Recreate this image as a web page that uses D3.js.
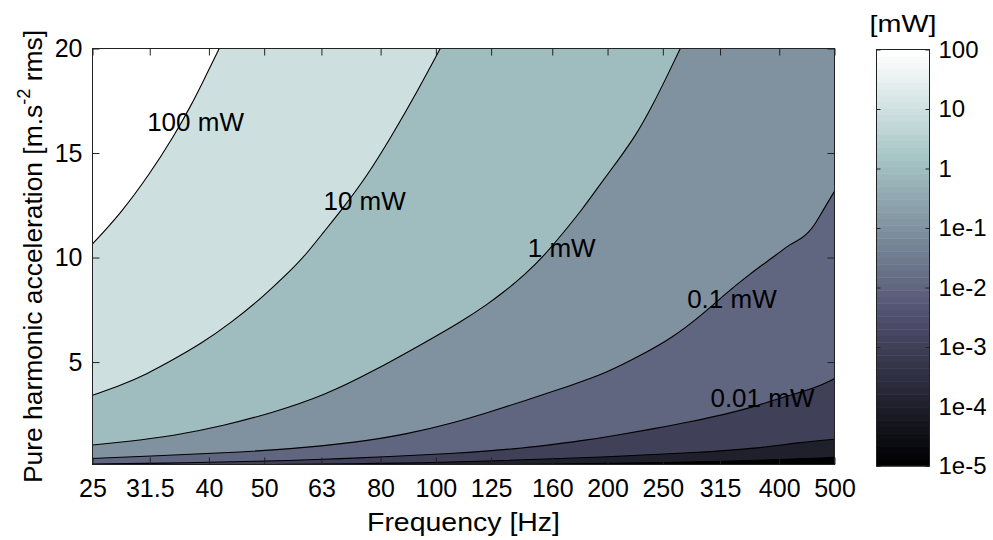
<!DOCTYPE html>
<html>
<head>
<meta charset="utf-8">
<script src="https://cdn.jsdelivr.net/npm/d3@7"></script>
<style>
  html, body { margin: 0; padding: 0; background: #fff; }
  svg { display: block; font-family: "Liberation Sans", Arial, Helvetica, sans-serif; }
</style>
</head>
<body>
<svg id="chart" width="993" height="540"></svg>
<script>
// ---- axis ticks ----
const FREQ_TICKS = [25, 31.5, 40, 50, 63, 80, 100, 125, 160, 200, 250, 315, 400, 500];
const ACCEL_TICKS = [5, 10, 15, 20];
const POWER_TICKS = [100, 10, 1, 0.1, 0.01, 0.001, 0.0001, 0.00001];
const POWER_TICK_LABELS = ["100", "10", "1", "1e-1", "1e-2", "1e-3", "1e-4", "1e-5"];

// ---- iso-power curves: [frequency Hz, acceleration m/s² rms] ----
const iso100mW = [[25, 10.65], [28, 12.1], [31.5, 14.0], [34.7, 15.8], [37.1, 17.2], [39.2, 18.5], [41.7, 20]];
const iso10mW = [[25, 3.41], [28.3, 3.94], [31.1, 4.42], [34.7, 5.13], [38.6, 5.85], [43.6, 6.85], [49.9, 8.15],
  [55.5, 9.35], [59, 10.1], [63.5, 11.2], [68.9, 12.4], [75.7, 13.9], [83.2, 15.7], [92.6, 17.9], [101.8, 20]];
const iso1mW = [[25, 1.03], [28.3, 1.18], [34.7, 1.47], [42.4, 1.95], [51.9, 2.59], [63.5, 3.38], [77.8, 4.57],
  [95.1, 5.9], [110.3, 6.9], [123.7, 7.8], [132.3, 8.4], [143.4, 9.2], [154.4, 10.05], [168.6, 11.3],
  [180.4, 12.29], [192.9, 13.4], [209, 14.68], [223.6, 15.79], [239.3, 17.22], [255.8, 18.82], [268.3, 20]];
const iso01mW = [[25, 0.39], [32.4, 0.52], [42.4, 0.65], [55.5, 0.84], [72.7, 1.16], [88.9, 1.55], [108.1, 2.11],
  [123.7, 2.6], [141.5, 3.1], [173.2, 3.9], [198.1, 4.45], [229.8, 5.35], [259.3, 6.15], [292.7, 7.25],
  [326, 8.4], [348.7, 9.03], [370.5, 9.58], [396, 10.14], [418, 10.65], [438, 10.9], [450, 11.2],
  [460, 11.5], [476, 12.2], [500, 13.17]];
const iso001mW = [[25, 0.12], [37.1, 0.18], [48.6, 0.25], [63.5, 0.34], [83.2, 0.48], [108.1, 0.63], [123.7, 0.75],
  [141.5, 0.88], [161.9, 1.07], [185.2, 1.28], [212, 1.55], [242.5, 1.82], [277.3, 2.13], [317.3, 2.46],
  [363, 2.87], [415, 3.41], [462.6, 3.75], [500, 4.21]];
const iso0001mW = [[52, 0.1], [80, 0.15], [108.1, 0.21], [161.9, 0.38], [194.2, 0.45], [242.5, 0.58],
  [290.8, 0.68], [332.5, 0.8], [380.6, 0.93], [435.5, 1.16], [500, 1.31]];
const iso00001mW = [[130, 0.1], [160, 0.12], [200, 0.15], [250, 0.19], [315, 0.25], [400, 0.33], [500, 0.44]];

const POWER_LEVELS = [0.0001, 0.001, 0.01, 0.1, 1, 10, 100];
const ISO_CURVES = [iso00001mW, iso0001mW, iso001mW, iso01mW, iso1mW, iso10mW, iso100mW];

// ---- in-plot curve labels ----
const LABEL_TEXT = ["100 mW", "10 mW", "1 mW", "0.1 mW", "0.01 mW"];
const LABEL_FREQ = [37.9, 75, 166.2, 330.5, 373.8];
const LABEL_ACCEL = [16.03, 12.26, 10.01, 7.6, 2.83];

// ---- layout ----
const svg = d3.select("#chart");
const PL = 92.5, PR = 834.5, PT = 48.5, PB = 464.5;
const CBL = 876.5, CBR = 929.5, CBT = 49.5, CBB = 466;
const F_MIN = 25, F_MAX = 500, A_MIN = 0.1, A_MAX = 20;

const x = d3.scaleLog().domain([F_MIN, F_MAX]).range([PL, PR]);
const y = d3.scaleLinear().domain([A_MIN, A_MAX]).range([PB, PT]);
const cb = d3.scaleLog().domain([1e-5, 100]).range([CBB, CBT]);

// 64-entry "bone" colour map
function bone(i) {
  const m = 64, n = 24;
  const gray = (i - 1) / (m - 1);
  const hr = Math.min(1, i / n);
  const hg = Math.min(1, Math.max(0, (i - n) / n));
  const hb = Math.max(0, (i - 2 * n) / (m - 2 * n));
  return d3.rgb(255 * (7 * gray + hb) / 8, 255 * (7 * gray + hg) / 8, 255 * (7 * gray + hr) / 8).formatHex();
}
function levelColor(v) {
  const t = (Math.log10(v) + 5) / 7;
  return bone(Math.max(1, Math.min(64, Math.floor(t * 64) + 1)));
}

svg.append("rect").attr("width", 993).attr("height", 540).attr("fill", "#fff");

svg.append("clipPath").attr("id", "plotClip")
  .append("rect").attr("x", PL).attr("y", PT).attr("width", PR - PL).attr("height", PB - PT);

const plot = svg.append("g").attr("clip-path", "url(#plotClip)");

// lowest band
plot.append("rect").attr("x", PL).attr("y", PT).attr("width", PR - PL).attr("height", PB - PT)
  .attr("fill", levelColor(1e-5));

const curve = d3.line().x(d => x(d[0])).y(d => y(d[1])).curve(d3.curveBasis);

// each band: region above the iso-power curve, painted from low to high power
ISO_CURVES.forEach((pts, k) => {
  const path = curve(pts) +
    `L${x(F_MAX)},${y(A_MAX)}L${x(F_MIN)},${y(A_MAX)}L${x(F_MIN)},${y(A_MIN)}Z`;
  plot.append("path").attr("d", path).attr("fill", levelColor(POWER_LEVELS[k])).attr("stroke", "none");
});

ISO_CURVES.forEach(pts => {
  plot.append("path").attr("d", curve(pts)).attr("fill", "none")
    .attr("stroke", "#000").attr("stroke-width", 1.1);
});

// ---- axes ----
function styleAxis(g, size) {
  g.select(".domain").remove();
  g.selectAll(".tick line").attr("stroke", "#222").attr("stroke-width", 1);
  g.selectAll(".tick text").attr("fill", "#000").attr("font-size", size)
    .attr("font-family", '"Liberation Sans", Arial, Helvetica, sans-serif');
  g.attr("font-family", null).attr("font-size", null);
}

const gx = svg.append("g").attr("transform", `translate(0,${PB})`)
  .call(d3.axisBottom(x).tickValues(FREQ_TICKS).tickFormat(d => String(d))
    .tickSizeInner(-7).tickSizeOuter(0).tickPadding(14.5));
styleAxis(gx, 25);

const gxt = svg.append("g").attr("transform", `translate(0,${PT})`)
  .call(d3.axisTop(x).tickValues(FREQ_TICKS).tickFormat("").tickSizeInner(-7).tickSizeOuter(0));
styleAxis(gxt, 25);

const gy = svg.append("g").attr("transform", `translate(${PL},0)`)
  .call(d3.axisLeft(y).tickValues(ACCEL_TICKS).tickFormat(d3.format("d"))
    .tickSizeInner(-7).tickSizeOuter(0).tickPadding(10));
styleAxis(gy, 25);

const gyr = svg.append("g").attr("transform", `translate(${PR},0)`)
  .call(d3.axisRight(y).tickValues(ACCEL_TICKS).tickFormat("").tickSizeInner(-7).tickSizeOuter(0));
styleAxis(gyr, 25);

svg.append("rect").attr("x", PL).attr("y", PT).attr("width", PR - PL).attr("height", PB - PT)
  .attr("fill", "none").attr("stroke", "#222").attr("stroke-width", 1);

// ---- curve labels ----
svg.append("g").selectAll("text").data(LABEL_TEXT).join("text")
  .attr("x", (d, i) => x(LABEL_FREQ[i]))
  .attr("y", (d, i) => y(LABEL_ACCEL[i]))
  .attr("text-anchor", "middle")
  .attr("font-size", 26)
  .attr("fill", "#000")
  .text(d => d);

// ---- axis titles ----
svg.append("text").attr("x", (PL + PR) / 2).attr("y", 530.7)
  .attr("text-anchor", "middle").attr("font-size", 25)
  .attr("textLength", 193).attr("lengthAdjust", "spacingAndGlyphs")
  .text("Frequency [Hz]");

const yt = svg.append("text")
  .attr("transform", `translate(42,${(PT + PB) / 2}) rotate(-90)`)
  .attr("text-anchor", "middle").attr("font-size", 26)
  .attr("textLength", 453).attr("lengthAdjust", "spacingAndGlyphs");
yt.append("tspan").text("Pure harmonic acceleration [m.s");
yt.append("tspan").attr("font-size", 18).attr("dy", -12).text("-2");
yt.append("tspan").attr("dy", 12).text(" rms]");

// ---- colour bar ----
const cbG = svg.append("g");
cbG.selectAll("rect").data(d3.range(64)).join("rect")
  .attr("x", CBL)
  .attr("width", CBR - CBL)
  .attr("y", i => cb(Math.pow(10, -5 + 7 * (i + 1) / 64)))
  .attr("height", i => cb(Math.pow(10, -5 + 7 * i / 64)) - cb(Math.pow(10, -5 + 7 * (i + 1) / 64)) + 0.5)
  .attr("fill", i => bone(i + 1));

const gcb = svg.append("g").attr("transform", `translate(${CBR},0)`)
  .call(d3.axisRight(cb).tickValues(POWER_TICKS)
    .tickFormat((d, i) => POWER_TICK_LABELS[i]).tickSizeInner(-4).tickSizeOuter(0).tickPadding(9));
styleAxis(gcb, 24);

const gcbl = svg.append("g").attr("transform", `translate(${CBL},0)`)
  .call(d3.axisLeft(cb).tickValues(POWER_TICKS).tickFormat("").tickSizeInner(-4).tickSizeOuter(0));
styleAxis(gcbl, 24);

svg.append("rect").attr("x", CBL).attr("y", CBT).attr("width", CBR - CBL).attr("height", CBB - CBT)
  .attr("fill", "none").attr("stroke", "#222").attr("stroke-width", 1);

svg.append("text").attr("x", (CBL + CBR) / 2).attr("y", 31.5)
  .attr("text-anchor", "middle").attr("font-size", 24)
  .attr("textLength", 67).attr("lengthAdjust", "spacingAndGlyphs")
  .text("[mW]");
</script>
</body>
</html>
